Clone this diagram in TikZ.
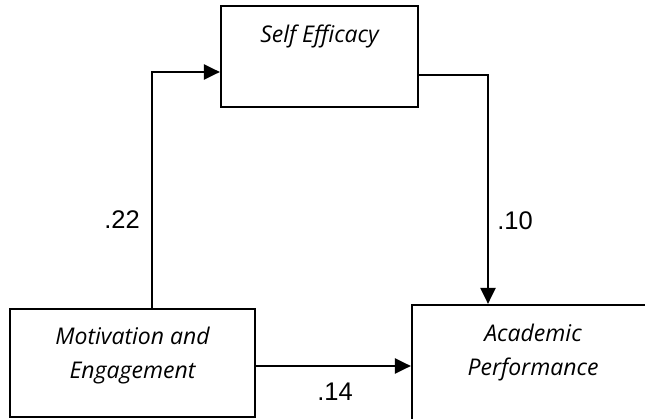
\documentclass[tikz,border=0pt]{standalone}
\usepackage{fontspec}
\setmainfont{Open Sans}
\newfontfamily\numfont{Liberation Sans}
\usepackage{tikz}
\usetikzlibrary{arrows.meta,positioning,calc}
\tikzstyle{box}=[draw,rectangle,inner sep=0pt]
\tikzstyle{boxtext}=[align=center,font=\itshape\fontsize{23}{34}\selectfont]
\tikzstyle{coef}=[font=\numfont\fontsize{25.5}{28}\selectfont]
\tikzstyle{path}=[-{Triangle[length=16pt,width=15pt]}]

\begin{document}
\begin{tikzpicture}[x=1pt,y=-1pt,line width=2.2pt]
    \useasboundingbox (0,0) rectangle (645,419);
    \clip (0,0) rectangle (645,419);
    \node [box,minimum width=197pt,minimum height=101pt] (selfeff) at (319.5,56.5) {};
    \node [boxtext] (selfefftext) at ([yshift=20pt]selfeff.center) {Self Efficacy};
    \node [box,minimum width=245pt,minimum height=108pt] (motiv) at (132.5,363) {};
    \node [boxtext] (motivtext) at ([yshift=7pt]motiv.center) {Motivation and\\Engagement};
    \node [box,minimum width=242pt,minimum height=115pt] (acad) at (533,362.5) {};
    \node [boxtext] (acadtext) at ([yshift=10pt]acad.center) {Academic\\Performance};

    \draw [path] ([xshift=19.5pt]motiv.north) |- ([yshift=-15.5pt]selfeff.west);
    \draw [path] ([yshift=-18.5pt]selfeff.east) -| ([xshift=-45pt]acad.north);
    \draw [path] ([yshift=-3pt]motiv.east) -- ([yshift=-3pt]motiv.east -| acad.west);

    \node [coef] (coefa) at (122,220) {.22};
    \node [coef] (coefb) at (515,221) {.10};
    \node [coef] (coefc) at (335,392) {.14};
  \end{tikzpicture}
\end{document}
